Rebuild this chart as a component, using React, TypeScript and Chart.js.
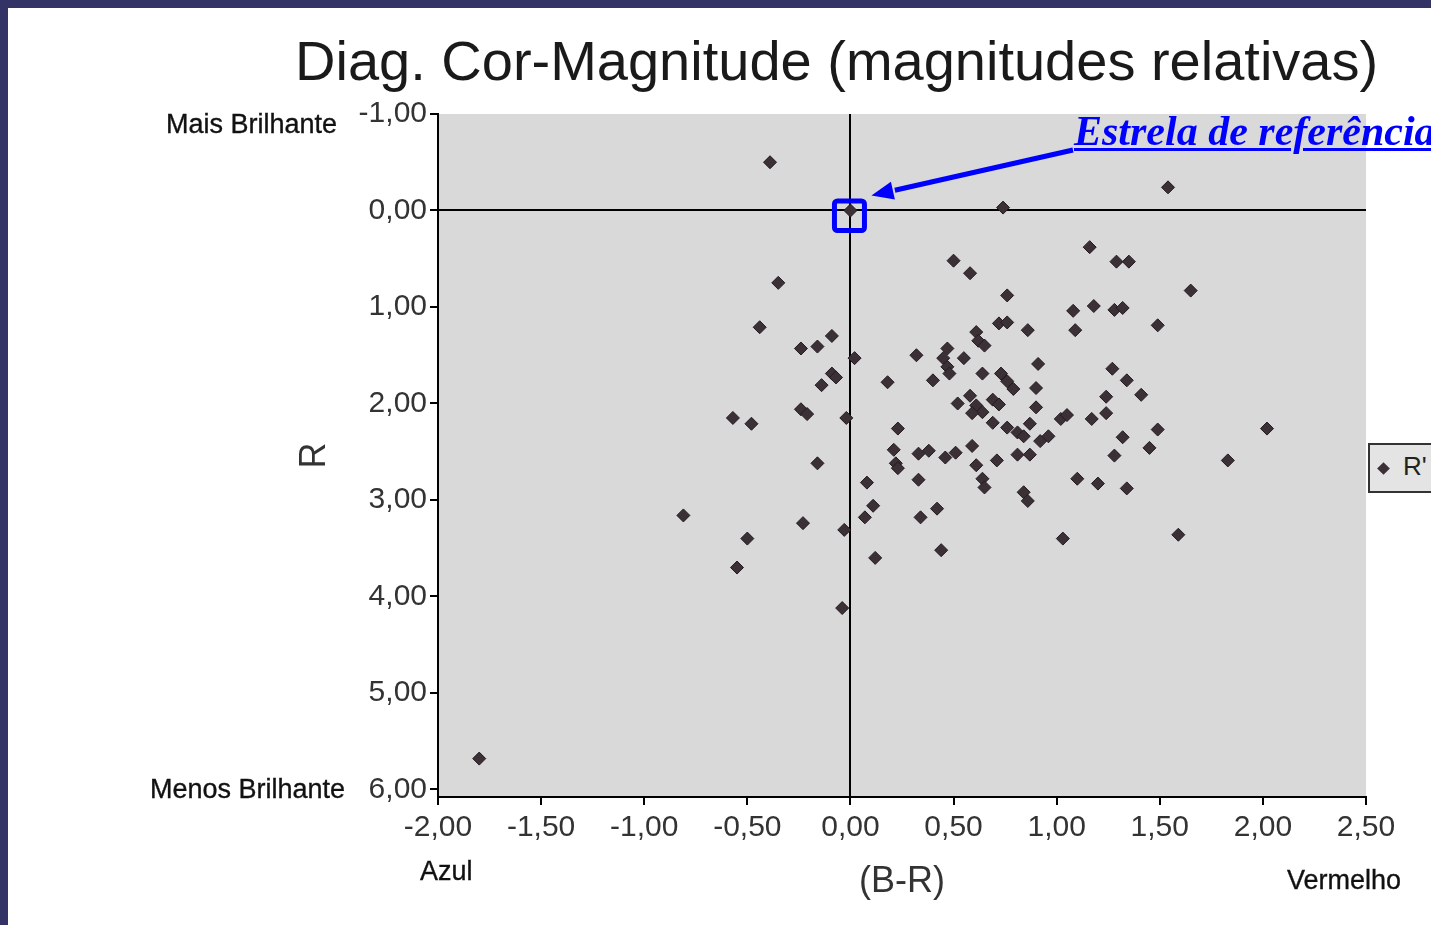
import React, { useEffect, useRef } from "react";
import { Chart, registerables } from "chart.js";

Chart.register(...registerables);

// ---------- data ----------
const TITLE = "Diag. Cor-Magnitude (magnitudes relativas)";
const SERIES_NAME = "R'";
const X_AXIS_TITLE = "(B-R)";
const Y_AXIS_TITLE = "R";
const ANNOTATION = "Estrela de referência";

// colour index (B-R) of each star
const BR_VALUES = [
  -0.39, 0.0, -0.35, -0.44, -0.09, -0.24, -0.16, 0.02, -0.09, -0.07,
  -0.14, -0.24, -0.21, -0.57, -0.48, -0.02, -0.16, -0.81, -0.23, -0.5,
  -0.55, -0.03, -0.04, -1.8, 0.08, 0.11, 0.07, 0.12,
  0.18, 0.23, 0.21, 0.22, 0.23, 0.33, 0.38, 0.33, 0.34, 0.42,
  0.44, 0.46, 0.51, 0.59, 0.61, 0.64, 0.65, 0.71, 0.81, 0.87,
  0.84, 0.86, 0.69, 0.76, 0.81, 0.84, 0.87, 0.92, 0.96, 1.02,
  1.05, 1.17, 1.1, 1.2, 1.28, 1.32, 1.34, 1.03, 1.45, 1.49,
  1.59, 1.83, 2.02,
  0.74, 1.54, 1.16, 0.5, 0.58, 1.29, 1.35, 1.65, 0.76, 1.08,
  1.18, 1.28, 1.32, 0.72, 0.76, 0.86, 1.09, 1.49, 0.61, 0.62,
  0.65, 0.32, 0.47, 0.45, 0.47, 0.48, 0.55, 0.91, 0.4, 0.64,
  0.73, 0.76, 0.79, 1.27, 1.34, 0.9, 1.41, 0.52, 0.58, 0.61,
  0.64, 0.59, 0.69, 0.72, 0.9, 1.24, 1.24,
];

// relative magnitude R of each star (same order)
const R_VALUES = [
  -0.5, 0.0, 0.75, 1.21, 1.3, 1.43, 1.41, 1.53, 1.69, 1.73,
  1.81, 2.06, 2.11, 2.15, 2.21, 2.15, 2.62, 3.16, 3.24, 3.4,
  3.7, 3.31, 4.12, 5.68, 2.82, 3.06, 3.18, 3.6,
  1.78, 2.26, 2.48, 2.62, 2.67, 2.52, 2.49, 2.79, 3.18, 3.09,
  3.52, 2.56, 2.51, 2.44, 2.64, 2.78, 2.87, 2.59, 2.53, 2.53,
  2.92, 3.01, 2.2, 2.25, 2.3, 2.34, 2.21, 2.39, 2.34, 2.16,
  2.12, 2.16, 2.78, 2.83, 2.54, 2.35, 2.88, 3.4, 2.46, 2.27,
  3.36, 2.59, 2.26,
  -0.03, -0.24, 0.38, 0.52, 0.65, 0.53, 0.53, 0.83, 0.88, 1.04,
  0.99, 1.03, 1.01, 1.17, 1.16, 1.24, 1.24, 1.19, 1.26, 1.35,
  1.4, 1.5, 1.43, 1.53, 1.62, 1.69, 1.53, 1.59, 1.76, 1.69,
  1.69, 1.77, 1.85, 1.64, 1.76, 1.84, 1.91, 2.0, 1.92, 2.02,
  2.09, 2.1, 1.96, 2.01, 2.04, 1.93, 2.1,
];

const X_TICKS = [-2, -1.5, -1, -0.5, 0, 0.5, 1, 1.5, 2, 2.5];
const Y_TICKS = [-1, 0, 1, 2, 3, 4, 5, 6];

// ---------- styling ----------
const SANS = "'Liberation Sans', Arial, Helvetica, sans-serif";
const SERIF = "'Liberation Serif', 'Times New Roman', serif";
const W = 1431;
const H = 925;
const PLOT_LEFT = 438;
const PLOT_RIGHT = 1366;
const PLOT_TOP = 114;
const PLOT_BOTTOM = 797;
const Y_MIN = -1;
const Y_MAX = 6.078;
const BLUE = "#0000ff";
const ANNOT_LEFT = 1074;
const ANNOT_BASE = 145;

const fmt = (v: number) => Number(v).toFixed(2).replace(".", ",");

const decorPlugin = {
  id: "decor",
  beforeDraw(chart: any) {
    const { ctx, chartArea: a } = chart;
    ctx.save();
    ctx.fillStyle = "#d9d9d9";
    ctx.fillRect(a.left, a.top, a.right - a.left, a.bottom - a.top);
    ctx.restore();
  },
  afterDraw(chart: any) {
    const { ctx } = chart;
    const x0 = chart.scales.x.getPixelForValue(0);
    const y0 = chart.scales.y.getPixelForValue(0);
    ctx.save();
    // highlight box around the reference star
    ctx.strokeStyle = BLUE;
    ctx.lineWidth = 5;
    ctx.beginPath();
    if (ctx.roundRect) ctx.roundRect(x0 - 16, y0 - 9.5, 30, 29.5, 3);
    else ctx.rect(x0 - 16, y0 - 9.5, 30, 29.5);
    ctx.stroke();
    // arrow from annotation text to the box
    const sx = ANNOT_LEFT - 1;
    const sy = ANNOT_BASE + 5;
    const tx = x0 + 21;
    const ty = y0 - 15;
    const dx = sx - tx;
    const dy = sy - ty;
    const len = Math.hypot(dx, dy);
    const ux = dx / len;
    const uy = dy / len;
    const hl = 22;
    const hw = 9;
    const bx = tx + ux * hl;
    const by = ty + uy * hl;
    ctx.lineWidth = 5;
    ctx.beginPath();
    ctx.moveTo(sx, sy);
    ctx.lineTo(bx + ux * 2, by + uy * 2);
    ctx.stroke();
    ctx.fillStyle = BLUE;
    ctx.beginPath();
    ctx.moveTo(tx, ty);
    ctx.lineTo(bx - uy * hw, by + ux * hw);
    ctx.lineTo(bx + uy * hw, by - ux * hw);
    ctx.closePath();
    ctx.fill();
    ctx.restore();
  },
};

const gridColor = (c: any) =>
  c.tick && c.tick.value === 0 ? "#000000" : "rgba(0,0,0,0)";

function Txt(props: {
  left?: number;
  right?: number;
  baseline: number;
  size: number;
  family?: string;
  color?: string;
  style?: React.CSSProperties;
  children: React.ReactNode;
}) {
  const family = props.family || SANS;
  const k = family === SERIF ? 0.8375 : 0.8465;
  const st: React.CSSProperties = {
    position: "absolute",
    top: props.baseline - k * props.size,
    fontFamily: family,
    fontSize: props.size,
    lineHeight: `${props.size}px`,
    whiteSpace: "nowrap",
    color: props.color || "#111",
    ...props.style,
  };
  if (props.left !== undefined) st.left = props.left;
  if (props.right !== undefined) st.right = W - props.right;
  return <div style={st}>{props.children}</div>;
}

const darkLabel: React.CSSProperties = { WebkitTextStroke: "0.35px #111" } as any;

export default function App() {
  const ref = useRef<HTMLCanvasElement | null>(null);

  useEffect(() => {
    const canvas = ref.current;
    if (!canvas) return;
    const points = BR_VALUES.map((x, i) => ({ x, y: R_VALUES[i] }));
    const chart = new Chart(canvas, {
      type: "scatter",
      data: {
        datasets: [
          {
            label: SERIES_NAME,
            data: points,
            pointStyle: "rectRot",
            pointRadius: 6.5,
            backgroundColor: "#3b3036",
            borderColor: "#231b20",
            borderWidth: 1,
          },
        ],
      },
      options: {
        responsive: false,
        animation: false,
        events: [],
        layout: {
          padding: { left: 0, right: W - PLOT_RIGHT, top: PLOT_TOP, bottom: 0 },
        },
        plugins: {
          legend: { display: false },
          title: { display: false },
          tooltip: { enabled: false },
        },
        scales: {
          x: {
            type: "linear",
            min: -2,
            max: 2.5,
            afterBuildTicks: (s: any) => {
              s.ticks = X_TICKS.map((v) => ({ value: v }));
            },
            afterFit: (s: any) => {
              s.height = H - PLOT_BOTTOM;
            },
            grid: {
              color: gridColor,
              tickColor: "#000",
              lineWidth: 2,
              tickLength: 8,
              drawTicks: true,
            },
            border: { display: true, color: "#000", width: 2 },
            ticks: {
              autoSkip: false,
              maxRotation: 0,
              padding: 5,
              color: "#333",
              font: { family: SANS, size: 30 },
              callback: (v: any) => fmt(v),
            },
            title: {
              display: true,
              text: X_AXIS_TITLE,
              color: "#333",
              font: { family: SANS, size: 36 },
              padding: { top: 0, bottom: 21 },
            },
          },
          y: {
            type: "linear",
            reverse: true,
            min: Y_MIN,
            max: Y_MAX,
            afterBuildTicks: (s: any) => {
              s.ticks = Y_TICKS.map((v) => ({ value: v }));
            },
            afterFit: (s: any) => {
              s.width = PLOT_LEFT;
            },
            grid: {
              color: gridColor,
              tickColor: "#000",
              lineWidth: 2,
              tickLength: 8,
              drawTicks: true,
            },
            border: { display: true, color: "#000", width: 2 },
            ticks: {
              autoSkip: false,
              padding: 3,
              color: "#333",
              font: { family: SANS, size: 30 },
              callback: (v: any) => fmt(v),
            },
            title: {
              display: true,
              text: Y_AXIS_TITLE,
              color: "#333",
              font: { family: SANS, size: 36 },
              padding: { top: 293, bottom: 0 },
            },
          },
        },
      },
      plugins: [decorPlugin],
    } as any);
    return () => chart.destroy();
  }, []);

  return (
    <div
      style={{
        position: "fixed",
        left: 0,
        top: 0,
        width: W,
        height: H,
        background: "#333366",
        overflow: "hidden",
      }}
    >
      <div
        style={{
          position: "absolute",
          left: 8,
          top: 8,
          right: 0,
          bottom: 0,
          background: "#ffffff",
        }}
      />
      <canvas
        ref={ref}
        width={W}
        height={H}
        style={{ position: "absolute", left: 0, top: 0, width: W, height: H }}
      />
      <Txt left={295} baseline={80} size={56} color="#1a1a1a">
        {TITLE}
      </Txt>
      <Txt right={337} baseline={134} size={27} style={darkLabel}>
        Mais Brilhante
      </Txt>
      <Txt right={345} baseline={799} size={27} style={darkLabel}>
        Menos Brilhante
      </Txt>
      <Txt left={420} baseline={881} size={27} style={darkLabel}>
        Azul
      </Txt>
      <Txt left={1287} baseline={890} size={27} style={darkLabel}>
        Vermelho
      </Txt>
      <Txt
        left={ANNOT_LEFT}
        baseline={ANNOT_BASE}
        size={42}
        family={SERIF}
        color={BLUE}
        style={{
          fontWeight: "bold",
          fontStyle: "italic",
          textDecoration: "underline",
          textDecorationThickness: 3,
          textUnderlineOffset: 3,
        }}
      >
        {ANNOTATION}
      </Txt>
      <div
        style={{
          position: "absolute",
          left: 1368,
          top: 443,
          width: 120,
          height: 46,
          border: "2px solid #333",
          background: "#e4e4e4",
        }}
      >
        <div
          style={{
            position: "absolute",
            left: 9,
            top: 19,
            width: 9,
            height: 9,
            background: "#3b3036",
            transform: "rotate(45deg)",
          }}
        />
        <div
          style={{
            position: "absolute",
            left: 33,
            top: 8,
            fontFamily: SANS,
            fontSize: 26,
            lineHeight: "26px",
            color: "#222",
            whiteSpace: "nowrap",
          }}
        >
          {SERIES_NAME}
        </div>
      </div>
    </div>
  );
}
